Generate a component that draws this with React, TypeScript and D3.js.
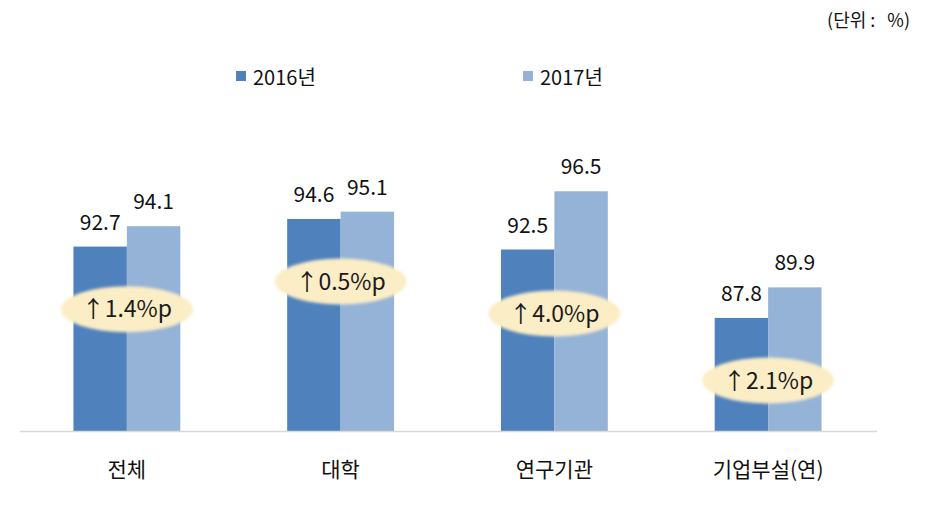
import React from "react";
import * as d3 from "d3";

const categories = ["전체", "대학", "연구기관", "기업부설(연)"];
const seriesNames = ["2016년", "2017년"];
const values2016 = [92.7, 94.6, 92.5, 87.8];
const values2017 = [94.1, 95.1, 96.5, 89.9];
// vertical position (in data units) of the change bubbles
const bubbleLevels = [88.4, 90.3, 88.1, 83.5];

const W = 926;
const H = 507;
const FONT = "'Noto Sans CJK KR', 'Noto Sans', sans-serif";
const colors = ["#4F81BD", "#95B3D7"];

export default function App() {
  const x = d3.scaleBand<string>().domain(categories).range([20, 875]).paddingInner(0).paddingOuter(0);
  const inner = d3
    .scaleBand<string>()
    .domain(seriesNames)
    .range([0, x.step() * 0.5]);
  const y = d3.scaleLinear().domain([80, 100]).range([431.5, 140.3]);
  const series = [values2016, values2017];
  const groupOffset = (x.step() - x.step() * 0.5) / 2;

  return (
    <svg
      width={W}
      height={H}
      style={{ position: "absolute", left: 0, top: 0, background: "#fff" }}
      fontFamily={FONT}
    >
      <defs>
        <filter id="soft" x="-20%" y="-40%" width="140%" height="180%">
          <feGaussianBlur stdDeviation="1.6" />
        </filter>
      </defs>

      {/* unit label */}
      <text x={910} y={27} textAnchor="end" fontSize={18} fill="#111">
        <tspan>(단위</tspan>
        <tspan dx={4}>:</tspan>
        <tspan dx={12}>%)</tspan>
      </text>

      {/* legend */}
      {seriesNames.map((s, i) => {
        const lx = [236, 523][i];
        return (
          <g key={s}>
            <rect x={lx} y={71} width={10} height={10} fill={colors[i]} />
            <text x={lx + 17} y={85} fontSize={20} fill="#111">
              {s}
            </text>
          </g>
        );
      })}

      {/* bars */}
      {categories.map((c, ci) => (
        <g key={c} transform={`translate(${(x(c) ?? 0) + groupOffset},0)`}>
          {series.map((vals, si) => {
            const bx = inner(seriesNames[si]) ?? 0;
            const bw = inner.bandwidth();
            return (
              <g key={si}>
                <rect x={bx} y={y(vals[ci])} width={bw} height={y(80) - y(vals[ci])} fill={colors[si]} />
                <text
                  x={bx + bw / 2}
                  y={y(vals[ci]) - 17}
                  textAnchor="middle"
                  fontSize={21}
                  fill="#111"
                >
                  {vals[ci].toFixed(1)}
                </text>
              </g>
            );
          })}
        </g>
      ))}

      {/* axis line */}
      <line x1={20} x2={877} y1={y(80)} y2={y(80)} stroke="#d9d9d9" strokeWidth={1.5} />

      {/* category labels */}
      {categories.map((c) => (
        <text
          key={c}
          x={(x(c) ?? 0) + x.bandwidth() / 2}
          y={477}
          textAnchor="middle"
          fontSize={21}
          fill="#111"
        >
          {c}
        </text>
      ))}

      {/* change bubbles */}
      {categories.map((c, ci) => {
        const cx = (x(c) ?? 0) + x.bandwidth() / 2;
        const cy = y(bubbleLevels[ci]);
        const diff = (values2017[ci] - values2016[ci]).toFixed(1);
        return (
          <g key={`b${c}`}>
            <ellipse cx={cx} cy={cy} rx={66} ry={23} fill="#FBEDC5" filter="url(#soft)" />
            <text x={cx} y={cy + 8} textAnchor="middle" fontSize={23} fill="#1a1a1a">
              {`↑${diff}%p`}
            </text>
          </g>
        );
      })}
    </svg>
  );
}
